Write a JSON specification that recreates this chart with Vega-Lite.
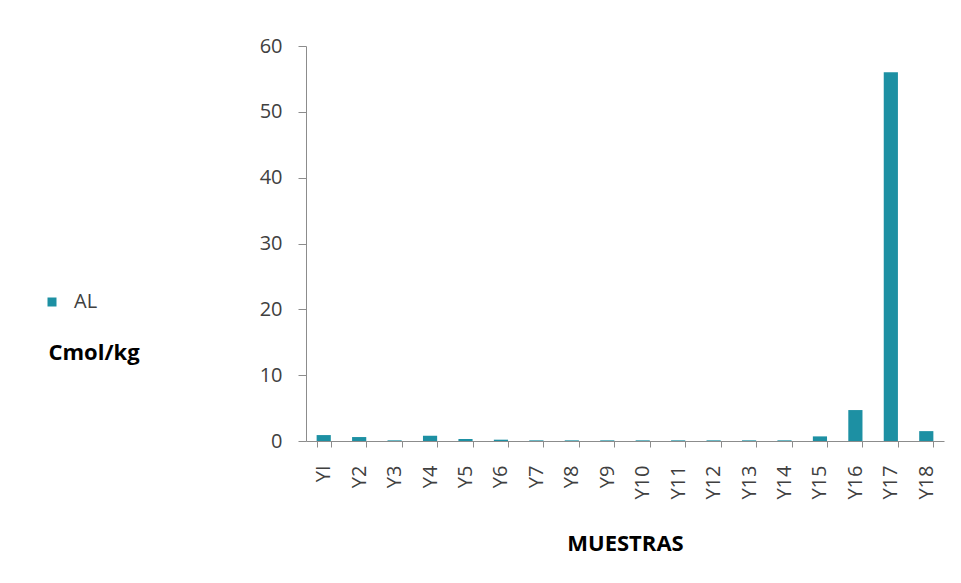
{
  "$schema": "https://vega.github.io/schema/vega-lite/v6.json",
  "width": 638,
  "height": 395,
  "autosize": {"type": "none"},
  "padding": {"left": 306, "top": 46, "right": 17, "bottom": 142},
  "background": "white",
  "config": {
    "view": {"stroke": null},
    "font": "Open Sans",
    "axis": {"labelFont": "Open Sans", "titleFont": "Open Sans", "labelColor": "#404040", "titleColor": "#000000", "domainColor": "#8c8c8c", "tickColor": "#8c8c8c", "grid": false}
  },
  "data": {
    "values": [
      {"muestra": "YI", "valor": 0.9, "serie": "AL"},
      {"muestra": "Y2", "valor": 0.6, "serie": "AL"},
      {"muestra": "Y3", "valor": 0.1, "serie": "AL"},
      {"muestra": "Y4", "valor": 0.8, "serie": "AL"},
      {"muestra": "Y5", "valor": 0.3, "serie": "AL"},
      {"muestra": "Y6", "valor": 0.2, "serie": "AL"},
      {"muestra": "Y7", "valor": 0.1, "serie": "AL"},
      {"muestra": "Y8", "valor": 0.1, "serie": "AL"},
      {"muestra": "Y9", "valor": 0.1, "serie": "AL"},
      {"muestra": "Y10", "valor": 0.1, "serie": "AL"},
      {"muestra": "Y11", "valor": 0.1, "serie": "AL"},
      {"muestra": "Y12", "valor": 0.1, "serie": "AL"},
      {"muestra": "Y13", "valor": 0.1, "serie": "AL"},
      {"muestra": "Y14", "valor": 0.1, "serie": "AL"},
      {"muestra": "Y15", "valor": 0.7, "serie": "AL"},
      {"muestra": "Y16", "valor": 4.7, "serie": "AL"},
      {"muestra": "Y17", "valor": 56, "serie": "AL"},
      {"muestra": "Y18", "valor": 1.5, "serie": "AL"}
    ]
  },
  "mark": {"type": "bar"},
  "encoding": {
    "x": {
      "field": "muestra",
      "type": "nominal",
      "sort": null,
      "scale": {"paddingInner": 0.6, "paddingOuter": 0.3},
      "axis": {"labelAngle": -90, "labelFontSize": 20, "tickBand": "extent", "tickSize": 6, "labelPadding": 18, "title": "MUESTRAS", "titleFontSize": 22, "titleFontWeight": "bold", "titlePadding": 34}
    },
    "y": {
      "field": "valor",
      "type": "quantitative",
      "scale": {"domain": [0, 60]},
      "axis": {"values": [0, 10, 20, 30, 40, 50, 60], "labelFontSize": 20, "tickSize": 8, "labelPadding": 16, "title": "Cmol/kg", "titleAngle": 0, "titleAlign": "left", "titleBaseline": "middle", "titleX": -258, "titleY": 306, "titleFontSize": 22, "titleFontWeight": "bold"}
    },
    "color": {
      "field": "serie",
      "type": "nominal",
      "scale": {"range": ["#1d90a3"]},
      "legend": {"title": null, "orient": "none", "legendX": -264, "legendY": 246, "symbolType": "square", "symbolSize": 81, "symbolOffset": 0, "labelOffset": 12, "labelFontSize": 20, "labelColor": "#404040", "labelFont": "Open Sans"}
    }
  }
}
